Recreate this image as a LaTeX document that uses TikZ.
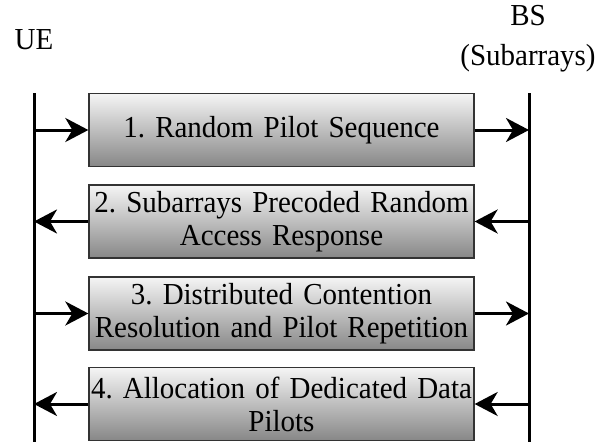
\documentclass[tikz,border=0pt]{standalone}
\usepackage{fontspec}
\setmainfont{Liberation Serif}[FakeStretch=0.95, WordSpace=0.8]
\usetikzlibrary{arrows.meta}
\tikzset{
  stepbox/.style={draw=black!80, line width=1.3pt, top color=black!4, bottom color=black!47,
    minimum width=385pt, minimum height=73pt, text width=385pt, inner sep=0pt, align=center,
    font=\fontsize{30.5}{33}\selectfont\frenchspacing},
  lifeline/.style={line width=3pt},
  sig/.style={line width=3pt, -{Stealth[length=23pt,width=24pt,inset=7pt]}},
}
\begin{document}
\begin{tikzpicture}[x=1pt,y=-1pt]
  \useasboundingbox (0,0) rectangle (603,442);
  \node (ue) [anchor=base, font=\fontsize{30.5}{33}\selectfont] at (34,49) {UE};
  \node (bs) [align=center, font=\fontsize{30.5}{40}\selectfont] at (528,39) {BS\\(Subarrays)};
  \coordinate (ue top) at (34,93);
  \coordinate (ue bot) at (34,442);
  \coordinate (bs top) at (529,93);
  \coordinate (bs bot) at (529,442);
  \node (1) [stepbox] at (281.5,130) {1. Random Pilot Sequence};
  \node (2) [stepbox] at (281.5,221.5) {2. Subarrays Precoded Random\\Access Response};
  \node (3) [stepbox] at (281.5,313.5) {3. Distributed Contention\\Resolution and Pilot Repetition};
  \node (4) [stepbox] at (281.5,404) {4. Allocation of Dedicated Data\\Pilots};
  \path[lifeline] (ue top) edge (ue bot)
                  (bs top) edge (bs bot);
  \path[sig] (1.west -| ue top) edge (1.west)
             (1.east) edge (1.east -| bs top)
             (2.east -| bs top) edge (2.east)
             (2.west) edge (2.west -| ue top)
             (3.west -| ue top) edge (3.west)
             (3.east) edge (3.east -| bs top)
             (4.east -| bs top) edge (4.east)
             (4.west) edge (4.west -| ue top)
             ;
\end{tikzpicture}
\end{document}
